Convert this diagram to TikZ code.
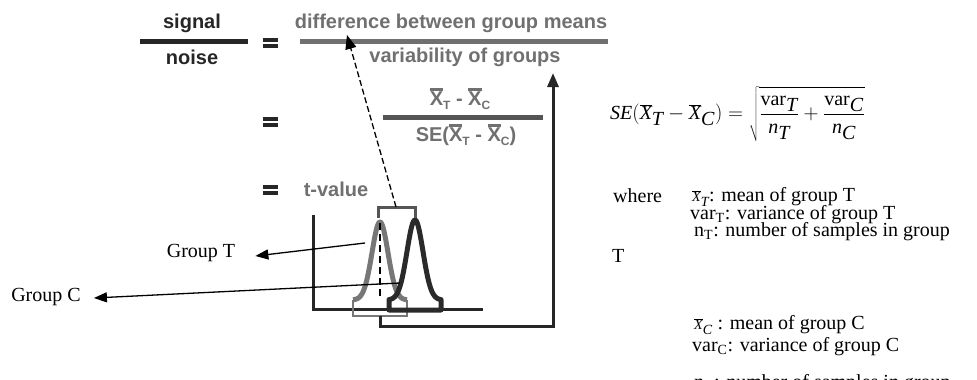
\documentclass[tikz,border=0pt]{standalone}
\usepackage{fontspec}
\setmainfont{Liberation Serif}
\setsansfont{Liberation Sans}
\usetikzlibrary{arrows.meta}
\definecolor{ink}{HTML}{262626}
\definecolor{graytxt}{HTML}{707070}
\definecolor{graydark}{HTML}{555555}
\definecolor{curveT}{HTML}{777777}
\definecolor{curveC}{HTML}{2A2A2A}
\newcommand{\Xb}[1]{\leavevmode\hbox{\vbox{\hrule height 2.5pt\kern1.5pt\hbox{X}}}\raisebox{-4pt}{\fontsize{12}{12}\selectfont #1}}
\newcommand{\Xs}[1]{{\fontsize{14}{14}\selectfont$\overline{\textit{X}}_{\textit{#1}}$}}
\newcommand{\eqbars}{\vbox{\hrule width 15pt height 3.5pt\kern 2.5pt\hrule width 15pt height 3.5pt}}
\begin{document}
\begin{tikzpicture}[x=1pt,y=-1pt,
  bsf/.style={font=\fontsize{20}{22}\selectfont\sffamily\bfseries, inner sep=0pt},
  darktxt/.style={bsf, text=ink},
  graytext/.style={bsf, text=graytxt},
  eqsign/.style={inner sep=0pt, text=ink},
  serif/.style={font=\fontsize{20}{22}\selectfont, inner sep=0pt, text=black},
  listtxt/.style={serif, anchor=west},
  pointer/.style={draw=black, line width=1.3pt, -{Triangle[length=13pt,width=10pt]}},
  axisline/.style={draw=ink, line width=3pt},
]
\useasboundingbox (0,0) rectangle (977,380);
% top fraction
\node[darktxt] (signal) at (192,23) {signal};
\node[darktxt] (noise) at (192,57) {noise};
\draw[ink, line width=5pt] (140,41) -- (248,41);
\node[eqsign] (eq1) at (270,43) {\eqbars};
\node[graytext] (diff) at (451,23) {difference between group means};
\draw[graytxt, line width=5pt] (300,41) -- (608,41);
\node[graytext] (vari) at (465,57) {variability of groups};
% second row
\node[eqsign] (eq2) at (270,122) {\eqbars};
\node[graytext] (num) at (460,99) {\Xb{T} - \Xb{C}};
\draw[graydark, line width=5pt] (383,117) -- (543,117);
\node[graytext] (den) at (466,135) {SE(\Xb{T} - \Xb{C})};
% third row
\node[eqsign] (eq3) at (270,190) {\eqbars};
\node[graytext] (tval) at (336,189) {t-value};
% axes
\draw[axisline] (313,215) -- (313,309) -- (483,309);
% group T curve
\draw[curveT, line width=5pt, line join=round] plot[domain=353:407, samples=90] (\x,{300-78*exp(-((\x-380)^2)/128)});
\draw[curveT, line width=2.5pt] (353,300) -- (353,316) -- (407,316) -- (407,300);
% group C curve
\draw[curveC, line width=5pt, line join=round] plot[domain=389:441, samples=90] (\x,{300-80*exp(-((\x-415)^2)/128)}) -- (441,310) -- (389,310) -- cycle;
% mean line
\draw[black, line width=2pt, dash pattern=on 7pt off 4pt] (380,223) -- (380,298);
% upper bracket
\draw[graydark, line width=3pt] (378,218) -- (378,207) -- (415,207) -- (415,218);
\coordinate (brk) at (396,207);
\coordinate (diffpt) at (347,35);
\draw[black, line width=1.3pt, dash pattern=on 6pt off 3pt, -{Triangle[length=14pt,width=11pt]}] (brk) -- (diffpt);
% group arrows
\node[serif] (gT) at (201,253) {Group T};
\node[serif] (gC) at (46,297) {Group C};
\coordinate (sT) at (365,243);
\coordinate (sC) at (400,283);
\draw[pointer] (sT) -- ([xshift=20pt,yshift=-3pt]gT.east);
\draw[pointer] (sC) -- ([xshift=13pt,yshift=-1pt]gC.east);
% big arrow
\coordinate (pstart) at (380,316);
\coordinate (ptip) at (553,73);
\draw[ink, line width=3pt, -{Triangle[length=14pt,width=11pt]}] (pstart) -- (380,326) -- (553,326) -- (ptip);
% formula
\node[serif, anchor=west] (se) at (610,114) {$\textit{SE}(\overline{\textit{X}}_{\textit{T}} - \overline{\textit{X}}_{\textit{C}}) = \sqrt{\displaystyle\frac{\textrm{var}_{\textit{T}}}{\textit{n}_{\textit{T}}}+\frac{\textrm{var}_{\textit{C}}}{\textit{n}_{\textit{C}}}\rule{0pt}{30pt}}$};
% list
\node[listtxt] (where) at (613,196) {where};
\node[listtxt] (l1) at (692,197) {\Xs{T}: mean of group T};
\node[listtxt] (l2) at (690,215) {var\textsubscript{T}: variance of group T};
\node[listtxt] (l3) at (694,232) {n\textsubscript{T}: number of samples in group};
\node[listtxt] (l4) at (612,256) {T};
\node[listtxt] (l5) at (694,325) {\Xs{C} : mean of group C};
\node[listtxt] (l6) at (692,347) {var\textsubscript{C}: variance of group C};
\begin{scope}
\clip (0,0) rectangle (977,380);
\node[serif, anchor=base west] (l7) at (694,388) {n\textsubscript{C}: number of samples in group};
\end{scope}
\end{tikzpicture}
\end{document}
